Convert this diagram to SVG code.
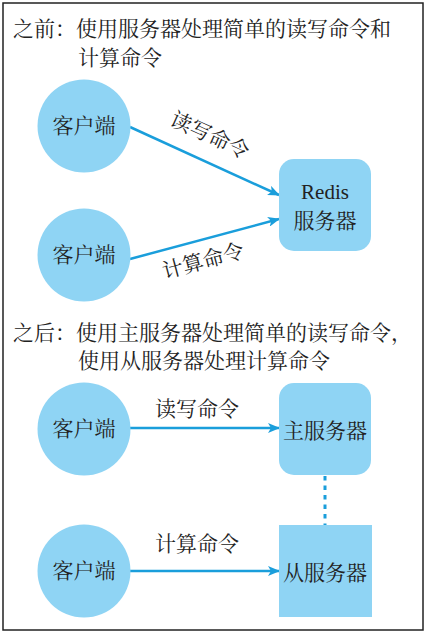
<svg xmlns="http://www.w3.org/2000/svg" width="429" height="636" viewBox="0 0 429 636">
<style>
text{font-family:"Liberation Serif","Noto Serif CJK SC","Noto Sans CJK SC",serif;font-size:21px;fill:#222}
.c{text-anchor:middle}
.node{fill:#8fd4f4}
.edge{stroke:#1a9edb;stroke-width:2.5;fill:none}
</style>
<defs>
<marker id="ah" viewBox="0 0 12 10" refX="11" refY="5" markerWidth="12" markerHeight="10" markerUnits="userSpaceOnUse" orient="auto">
<path d="M0,0 L12,5 L0,10 L3,5 Z" fill="#1a9edb"/>
</marker>
</defs>
<rect x="3" y="3" width="420" height="627" fill="#fff" stroke="#222" stroke-width="1.5"/>
<g id="title1">
<text x="13" y="36">之前：使用服务器处理简单的读写命令和</text>
<text x="78" y="65">计算命令</text>
</g>
<g id="title2">
<text x="13" y="340">之后：使用主服务器处理简单的读写命令，</text>
<text x="78" y="368">使用从服务器处理计算命令</text>
</g>
<g id="connectors">
<line class="edge" x1="130" y1="127" x2="279" y2="195" marker-end="url(#ah)"/>
<line class="edge" x1="130" y1="259" x2="279" y2="219" marker-end="url(#ah)"/>
<line class="edge" x1="130" y1="428" x2="279" y2="428" marker-end="url(#ah)"/>
<line class="edge" x1="130" y1="571" x2="279" y2="571" marker-end="url(#ah)"/>
<line x1="325" y1="476" x2="325" y2="525" stroke="#1a9edb" stroke-width="3" stroke-dasharray="4.5 5"/>
<text class="c" transform="translate(207,142) rotate(24.5)">读写命令</text>
<text class="c" transform="translate(205,268) rotate(-15)">计算命令</text>
<text class="c" x="197" y="416">读写命令</text>
<text class="c" x="197" y="551">计算命令</text>
</g>
<g id="client1">
<circle class="node" cx="84" cy="126" r="46.5"/>
<text class="c" x="84" y="133">客户端</text>
</g>
<g id="client2">
<circle class="node" cx="84" cy="255" r="46.5"/>
<text class="c" x="84" y="262">客户端</text>
</g>
<g id="redis">
<rect class="node" x="279" y="159" width="92" height="92" rx="15"/>
<text class="c" x="325" y="199">Redis</text>
<text class="c" x="325" y="228">服务器</text>
</g>
<g id="client3">
<circle class="node" cx="84" cy="429" r="46.5"/>
<text class="c" x="84" y="436">客户端</text>
</g>
<g id="client4">
<circle class="node" cx="84" cy="571" r="46.5"/>
<text class="c" x="84" y="578">客户端</text>
</g>
<g id="master">
<rect class="node" x="279" y="383" width="92" height="92" rx="15"/>
<text class="c" x="325" y="438">主服务器</text>
</g>
<g id="slave">
<rect class="node" x="279" y="525" width="93" height="92"/>
<text class="c" x="325" y="580">从服务器</text>
</g>
</svg>
